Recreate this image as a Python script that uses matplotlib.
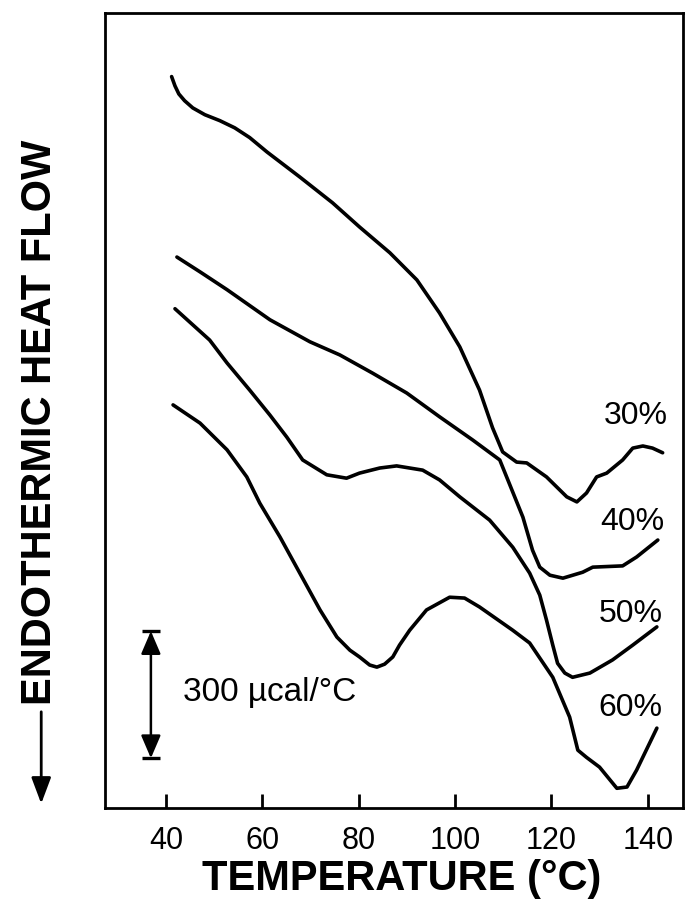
import matplotlib
matplotlib.use("Agg")
import matplotlib.pyplot as plt
from matplotlib.patches import FancyArrowPatch

plt.rcParams['font.family'] = ['Liberation Sans', 'DejaVu Sans']

# temperature (C) and heat flow (ucal/C, arbitrary zero)
t30 = [41.2, 41.9, 42.7, 43.9, 45.6, 48.1, 51.2, 54.3, 57.4, 61.0, 67.8, 74.6, 80.2, 86.5,
       92.1, 96.8, 101.0, 105.1, 107.8, 109.9, 112.8, 114.9, 119.0, 123.2, 125.3, 127.3,
       129.4, 131.5, 134.8, 136.9, 139.0, 141.0, 143.1]
h30 = [1727, 1705, 1686, 1670, 1653, 1637, 1623, 1606, 1583, 1549, 1490, 1429, 1372, 1311,
       1247, 1169, 1089, 987, 898, 841, 817, 815, 782, 735, 723, 744,
       782, 791, 822, 850, 855, 850, 839]

t40 = [42.3, 47.1, 52.7, 61.6, 69.9, 76.1, 82.9, 90.0, 96.8, 103.7, 109.3, 111.4, 114.1,
       116.1, 117.6, 119.7, 122.4, 126.5, 128.6, 134.8, 137.7, 142.1]
h40 = [1301, 1266, 1224, 1153, 1101, 1070, 1027, 980, 924, 869, 822, 763, 687,
       609, 569, 550, 543, 557, 569, 572, 593, 633]

t50 = [41.9, 49.1, 52.7, 57.4, 61.6, 65.1, 68.4, 73.4, 77.5, 80.2, 84.4, 87.9, 93.3, 96.8,
       101.0, 107.2, 112.0, 115.5, 117.6, 119.0, 120.3, 121.3, 122.8, 124.4, 128.0, 132.7,
       136.9, 141.9]
h50 = [1179, 1105, 1051, 987, 928, 876, 822, 787, 779, 791, 803, 808, 798, 775,
       735, 680, 616, 555, 503, 444, 385, 342, 319, 309, 319, 350, 385, 428]

t60 = [41.5, 47.1, 52.7, 56.8, 59.5, 63.7, 67.8, 72.0, 75.5, 78.2, 80.2, 82.3, 83.8, 85.4,
       87.1, 88.5, 90.6, 94.1, 98.9, 102.0, 105.1, 112.0, 115.5, 120.3, 123.8, 125.5, 127.3,
       130.0, 133.6, 135.7, 137.7, 141.9]
h60 = [952, 909, 846, 782, 720, 640, 555, 468, 404, 373, 357, 338, 333, 340,
       357, 385, 420, 468, 498, 496, 475, 420, 390, 309, 215, 137, 120,
       97, 47, 50, 90, 189]

labels = ['30%', '40%', '50%', '60%']
label_t = [137.5, 136.9, 136.5, 136.5]
label_h = [926, 675, 458, 236]

xticks = [40, 60, 80, 100, 120, 140]
scale_bottom = 118
scale_size = 300

fig = plt.figure(figsize=(6.87, 9.01), dpi=100)
ax = fig.add_axes([0.153, 0.103, 0.841, 0.883])

for t, h in [(t30, h30), (t40, h40), (t50, h50), (t60, h60)]:
    ax.plot(t, h, color='black', lw=2.6, solid_capstyle='round', solid_joinstyle='round')

for lab, x, y in zip(labels, label_t, label_h):
    ax.text(x, y, lab, fontsize=23, ha='center', va='center')

# scale bar
xb = 36.9
ax.annotate('', xy=(xb, scale_bottom + scale_size), xytext=(xb, scale_bottom),
            arrowprops=dict(arrowstyle='<|-|>,head_length=0.7,head_width=0.3',
                            mutation_scale=20, color='black', lw=1.8,
                            shrinkA=0, shrinkB=0))
ax.plot([xb, xb], [scale_bottom, scale_bottom + scale_size], ls='none', marker='_',
        markersize=13, mew=2.4, color='black')
ax.text(43.5, 274, '300 \u00b5cal/\u00b0C', fontsize=24, ha='left', va='center')

ax.set_xlim(27.4, 147.3)
ax.set_ylim(0, 1878)
ax.set_xticks(xticks)
ax.set_xticklabels([str(v) for v in xticks])
ax.set_yticks([])
ax.tick_params(axis='x', direction='in', length=10, width=2, labelsize=22, pad=13)
for s in ax.spines.values():
    s.set_linewidth(2)

fig.text(0.585, 0.012, 'TEMPERATURE (\u00b0C)', fontsize=30, fontweight='bold',
         ha='center', va='baseline')
fig.text(0.058, 0.531, 'ENDOTHERMIC HEAT FLOW', fontsize=30, fontweight='bold',
         rotation=90, ha='center', va='center')
fig.add_artist(FancyArrowPatch(
    (0.060, 0.210), (0.060, 0.108), transform=fig.transFigure,
    arrowstyle='-|>,head_length=0.8,head_width=0.3', mutation_scale=20,
    color='black', lw=2, shrinkA=0, shrinkB=0))

fig.savefig('out.png', dpi=100)
